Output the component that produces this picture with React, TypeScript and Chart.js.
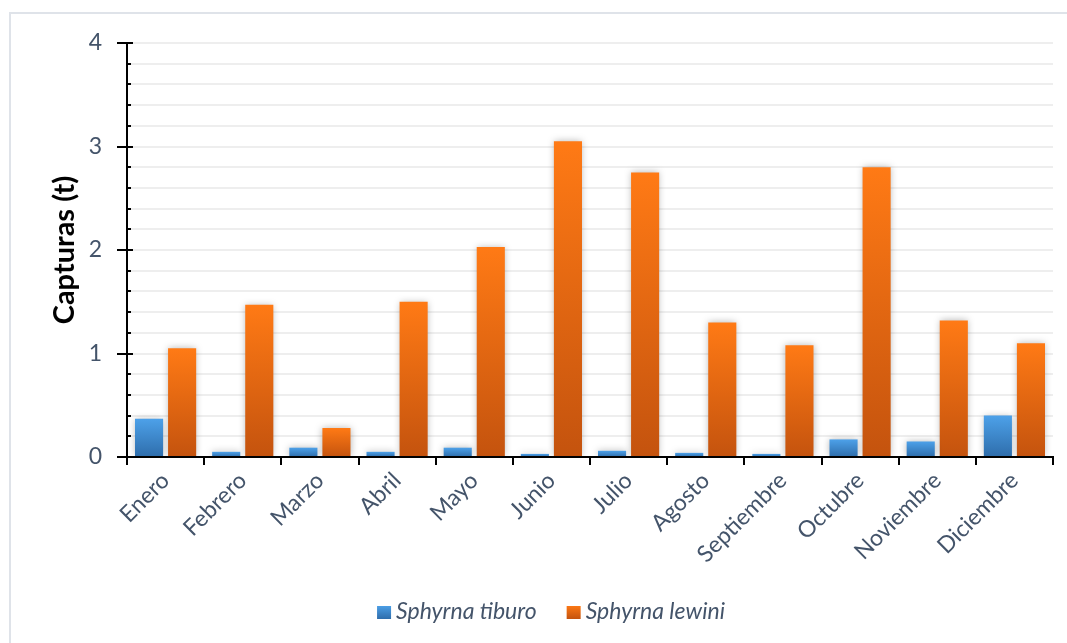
import React, { useEffect, useRef } from 'react';
import { Chart, registerables } from 'chart.js';

Chart.register(...registerables);

const months = ['Enero', 'Febrero', 'Marzo', 'Abril', 'Mayo', 'Junio', 'Julio', 'Agosto', 'Septiembre', 'Octubre', 'Noviembre', 'Diciembre'];
const tiburo = [0.37, 0.05, 0.09, 0.05, 0.09, 0.03, 0.06, 0.04, 0.03, 0.17, 0.15, 0.40];
const lewini = [1.05, 1.47, 0.28, 1.50, 2.03, 3.05, 2.75, 1.30, 1.08, 2.80, 1.32, 1.10];
const seriesNames = ['Sphyrna tiburo', 'Sphyrna lewini'];
const yTitle = 'Capturas (t)';

const FONT = 'Lato, "Open Sans", sans-serif';
const TEXT = '#44546a';
const BLUE = ['#4da1e9', '#2e6dab'];
const ORANGE = ['#ff7a15', '#c4530e'];
const SERIES_COLORS = [BLUE, ORANGE];

function barGradient(colors: string[]) {
  return (c: any) => {
    const chart = c.chart;
    if (!chart.chartArea || c.raw === undefined || c.type !== 'data') return colors[0];
    const y = chart.scales.y;
    const top = y.getPixelForValue(c.raw as number);
    const bot = y.getPixelForValue(0);
    if (!isFinite(top) || bot - top < 1) return colors[0];
    const g = chart.ctx.createLinearGradient(0, top, 0, bot);
    g.addColorStop(0, colors[0]);
    g.addColorStop(1, colors[1]);
    return g;
  };
}

const decor = {
  id: 'decor',
  beforeDatasetsDraw(chart: any) {
    const ctx = chart.ctx;
    ctx.save();
    ctx.shadowColor = 'rgba(0,0,0,0.28)';
    ctx.shadowBlur = 7;
    ctx.shadowOffsetX = 0;
    ctx.shadowOffsetY = 0;
  },
  afterDatasetsDraw(chart: any) {
    chart.ctx.restore();
  },
  afterDraw(chart: any) {
    const ctx = chart.ctx;
    const y = chart.scales.y;
    const ca = chart.chartArea;
    ctx.save();
    ctx.strokeStyle = '#000';
    ctx.lineWidth = 2;
    y.ticks.forEach((t: any) => {
      const py = Math.round(y.getPixelForValue(t.value));
      const major = Math.abs(t.value - Math.round(t.value)) < 1e-6;
      ctx.beginPath();
      ctx.moveTo(major ? ca.left - 10 : ca.left, py);
      ctx.lineTo(major ? ca.left + 6 : ca.left + 4, py);
      ctx.stroke();
    });
    const n = months.length;
    const w = (ca.right - ca.left) / n;
    for (let k = 0; k <= n; k++) {
      const px = Math.round(ca.left + k * w);
      ctx.beginPath();
      ctx.moveTo(px, ca.bottom - 1);
      ctx.lineTo(px, ca.bottom + 8);
      ctx.stroke();
    }
    // legend
    ctx.font = `italic 23px ${FONT}`;
    ctx.textBaseline = 'middle';
    ctx.textAlign = 'left';
    const box = 14;
    const gapBox = 5;
    const gapItem = 30;
    const widths = seriesNames.map((s) => ctx.measureText(s).width);
    const total = widths.reduce((a, b) => a + b + box + gapBox, 0) + gapItem * (seriesNames.length - 1);
    let x = 551 - total / 2;
    const ly = 612;
    seriesNames.forEach((s, i) => {
      const g = ctx.createLinearGradient(0, ly - 7, 0, ly + 7);
      g.addColorStop(0, SERIES_COLORS[i][0]);
      g.addColorStop(1, SERIES_COLORS[i][1]);
      ctx.fillStyle = g;
      ctx.fillRect(x, ly - 6, box, 13);
      ctx.fillStyle = TEXT;
      ctx.fillText(s, x + box + gapBox, ly);
      x += box + gapBox + widths[i] + gapItem;
    });
    ctx.restore();
  },
};

export default function App() {
  const ref = useRef<HTMLCanvasElement>(null);
  useEffect(() => {
    if (!ref.current) return;
    const chart = new Chart(ref.current, {
      type: 'bar',
      data: {
        labels: months,
        datasets: [
          { label: seriesNames[0], data: tiburo, backgroundColor: barGradient(BLUE) as any, borderWidth: 0, barPercentage: 0.85, categoryPercentage: 0.857 },
          { label: seriesNames[1], data: lewini, backgroundColor: barGradient(ORANGE) as any, borderWidth: 0, barPercentage: 0.85, categoryPercentage: 0.857 },
        ],
      },
      options: {
        animation: false,
        responsive: true,
        maintainAspectRatio: false,
        layout: { padding: { left: 0, top: 43, right: 14, bottom: 0 } },
        plugins: { legend: { display: false }, tooltip: { enabled: false } },
        scales: {
          x: {
            grid: { display: false, drawTicks: false },
            border: { color: '#000', width: 2 },
            ticks: { color: TEXT, font: { family: FONT, size: 23 }, minRotation: 45, maxRotation: 45, padding: 10, autoSkip: false },
            afterFit: (s: any) => { s.height = 186; },
          },
          y: {
            min: 0,
            max: 4,
            grid: { color: '#eeeeee', lineWidth: 2, drawTicks: false },
            border: { color: '#000', width: 2 },
            ticks: {
              stepSize: 0.2,
              autoSkip: false,
              padding: 25,
              color: TEXT,
              font: { family: FONT, size: 23 },
              callback: (v: any) => (Math.abs(v - Math.round(v)) < 1e-6 ? String(Math.round(v)) : ''),
            },
            title: { display: true, text: yTitle, color: '#000', font: { family: FONT, size: 29, weight: 'bold' }, padding: { top: 47, bottom: 0 } },
            afterFit: (s: any) => { s.width = 127; },
          },
        },
      },
      plugins: [decor],
    });
    return () => chart.destroy();
  }, []);
  return (
    <div style={{ position: 'fixed', left: 0, top: 0, width: 1067, height: 643, background: '#fff', overflow: 'hidden' }}>
      <div style={{ position: 'absolute', left: 9, top: 12, width: 1100, height: 700, border: '2px solid #dfe3e9', boxSizing: 'border-box' }} />
      <div style={{ position: 'absolute', left: 0, top: 0, width: 1067, height: 643 }}>
        <canvas ref={ref} />
      </div>
    </div>
  );
}
